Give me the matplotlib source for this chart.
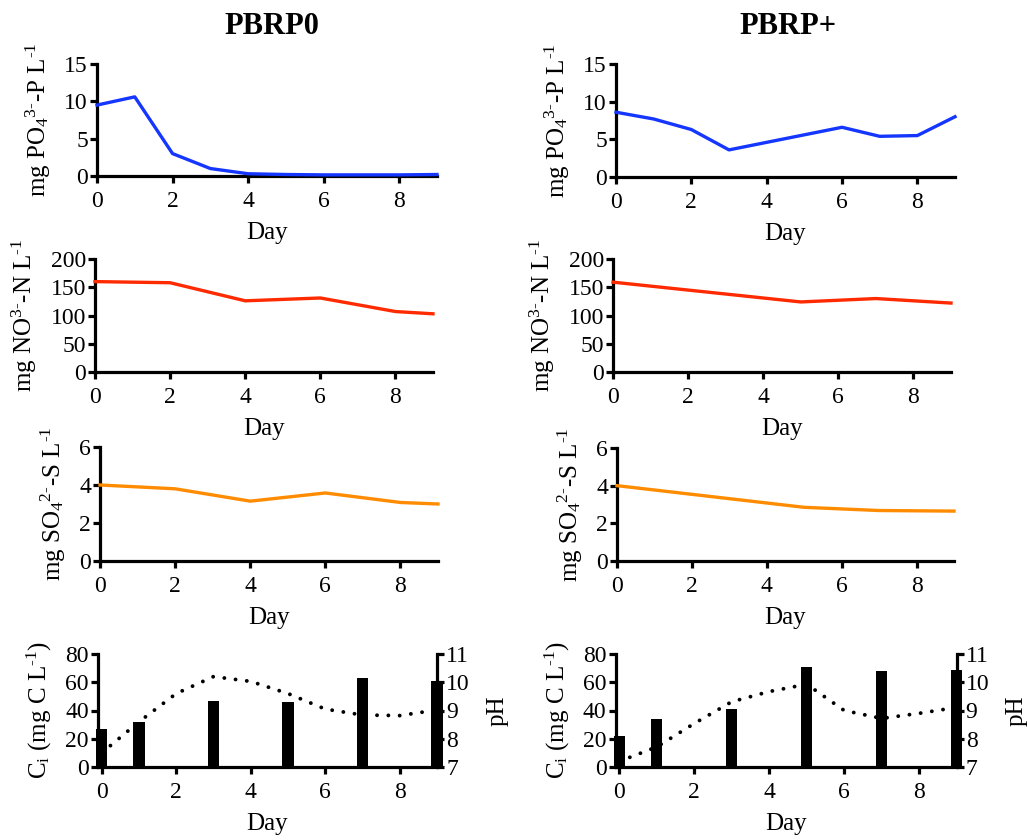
import matplotlib
matplotlib.use("Agg")
import matplotlib.pyplot as plt

plt.rcParams['font.family'] = ['Liberation Serif', 'DejaVu Serif']
plt.rcParams['mathtext.fontset'] = 'custom'
plt.rcParams['mathtext.rm'] = 'Liberation Serif'
plt.rcParams['mathtext.it'] = 'Liberation Serif:italic'
plt.rcParams['mathtext.bf'] = 'Liberation Serif:bold'

# ---- data ----
titles = ["PBRP0", "PBRP+"]

po4_days_0 = [0, 1, 2, 3, 4, 5, 6, 7, 8, 9]
po4_vals_0 = [9.5, 10.6, 3.0, 1.0, 0.3, 0.2, 0.15, 0.15, 0.15, 0.2]
po4_days_p = [0, 1, 2, 3, 6, 7, 8, 9]
po4_vals_p = [8.6, 7.7, 6.3, 3.6, 6.6, 5.4, 5.5, 8.0]

no3_days_0 = [0, 2, 4, 6, 8, 9]
no3_vals_0 = [160, 158, 126, 131, 107, 103]
no3_days_p = [0, 5, 7, 9]
no3_vals_p = [159, 124, 130, 122]

so4_days_0 = [0, 2, 4, 6, 8, 9]
so4_vals_0 = [4.0, 3.8, 3.15, 3.58, 3.08, 3.0]
so4_days_p = [0, 5, 7, 9]
so4_vals_p = [4.0, 2.85, 2.68, 2.65]

ci_days = [0, 1, 3, 5, 7, 9]
ci_vals_0 = [27, 32, 47, 46, 63, 61]
ci_vals_p = [22, 34, 41, 71, 68, 68.5]

ph_days = [0, 1, 2, 3, 4, 5, 6, 7, 8, 9]
ph_vals_0 = [7.5, 8.6, 9.6, 10.2, 10.03, 9.6, 9.05, 8.84, 8.82, 9.02]
ph_vals_p = [7.2, 7.71, 8.54, 9.31, 9.67, 9.93, 9.0, 8.72, 8.9, 9.11]

day_ticks = [0, 2, 4, 6, 8]

BLUE = '#1436ff'
RED = '#ff2a00'
ORANGE = '#ff8c00'

LW_SPINE = 2.3
TICK_FS = 17
LABEL_FS = 18

W, H = 1027, 840
fig = plt.figure(figsize=(W / 100, H / 100), dpi=100)


def frame(x0, x1, ytop, ybot):
    return [x0 / W, (H - ybot) / H, (x1 - x0) / W, (ybot - ytop) / H]


def style(ax, right=False):
    for s in ['top'] + ([] if right else ['right']):
        ax.spines[s].set_visible(False)
    for s in ax.spines.values():
        s.set_linewidth(LW_SPINE)
    ax.tick_params(width=LW_SPINE, length=5, labelsize=TICK_FS, direction='out', pad=1.5)
    ax.tick_params(axis='x', pad=6)
    ax.set_xticks(day_ticks)
    ax.set_xlabel("Day", fontsize=LABEL_FS, labelpad=7)


def line_panel(rect, days, vals, color, ylim, yticks, ylabel):
    ax = fig.add_axes(rect)
    ax.plot(days, vals, color=color, lw=2.4, solid_joinstyle='round', clip_on=False, zorder=3)
    ax.set_xlim(0, 9)
    ax.set_ylim(*ylim)
    ax.set_yticks(yticks)
    ax.set_ylabel(ylabel, fontsize=LABEL_FS, labelpad=8)
    style(ax)
    return ax


po4_label = r"mg PO$_4$$^{3\text{-}}$-P L$^{\text{-}1}$"
no3_label = r"mg NO$^{3\text{-}}$-N L$^{\text{-}1}$"
so4_label = r"mg SO$_4$$^{2\text{-}}$-S L$^{\text{-}1}$"
ci_label = r"C$_\mathrm{i}$ (mg C L$^{\text{-}1}$)"

# Row 1: phosphate
line_panel(frame(97, 437, 64, 176), po4_days_0, po4_vals_0, BLUE, (0, 15), [0, 5, 10, 15], po4_label)
line_panel(frame(616, 955, 64, 177), po4_days_p, po4_vals_p, BLUE, (0, 15), [0, 5, 10, 15], po4_label)

# Row 2: nitrate
line_panel(frame(95, 433, 259, 372), no3_days_0, no3_vals_0, RED, (0, 200), [0, 50, 100, 150, 200], no3_label)
line_panel(frame(613, 951, 259, 372), no3_days_p, no3_vals_p, RED, (0, 200), [0, 50, 100, 150, 200], no3_label)

# Row 3: sulphate
line_panel(frame(100, 438, 447, 561), so4_days_0, so4_vals_0, ORANGE, (0, 6), [0, 2, 4, 6], so4_label)
line_panel(frame(617, 954, 448, 561), so4_days_p, so4_vals_p, ORANGE, (0, 6), [0, 2, 4, 6], so4_label)


# Row 4: inorganic carbon bars with pH on a twin axis
def carbon_panel(rect, ci_vals, ph_vals):
    ax = fig.add_axes(rect)
    ax.bar(ci_days, ci_vals, width=0.3, color='black', clip_on=False, zorder=3)
    ax.set_xlim(-0.1, 9)
    ax.set_ylim(0, 80)
    ax.set_yticks([0, 20, 40, 60, 80])
    ax.set_ylabel(ci_label, fontsize=LABEL_FS, labelpad=8)
    style(ax, right=True)
    ax.spines['right'].set_visible(False)
    ax2 = ax.twinx()
    ax2.plot(ph_days, ph_vals, color='black', lw=2.8, linestyle=(0, (0.01, 2.9)),
             dash_capstyle='round', zorder=2)
    ax2.set_ylim(7, 11)
    ax2.set_yticks([7, 8, 9, 10, 11])
    for s in ['top', 'left', 'bottom']:
        ax2.spines[s].set_visible(False)
    ax2.spines['right'].set_linewidth(LW_SPINE)
    ax2.tick_params(width=LW_SPINE, length=5, labelsize=TICK_FS, direction='out', pad=1.5)
    ax2.set_ylabel("pH", fontsize=LABEL_FS, rotation=90, labelpad=12)
    ax.set_zorder(ax2.get_zorder() + 1)
    ax.patch.set_visible(False)
    return ax


carbon_panel(frame(98, 437, 654, 767), ci_vals_0, ph_vals_0)
carbon_panel(frame(615.5, 956.7, 654, 767), ci_vals_p, ph_vals_p)

fig.text(272 / W, 1 - 27 / H, titles[0], ha='center', va='center', fontsize=22, fontweight='bold')
fig.text(788 / W, 1 - 27 / H, titles[1], ha='center', va='center', fontsize=22, fontweight='bold')

fig.savefig("out.png", dpi=100)
